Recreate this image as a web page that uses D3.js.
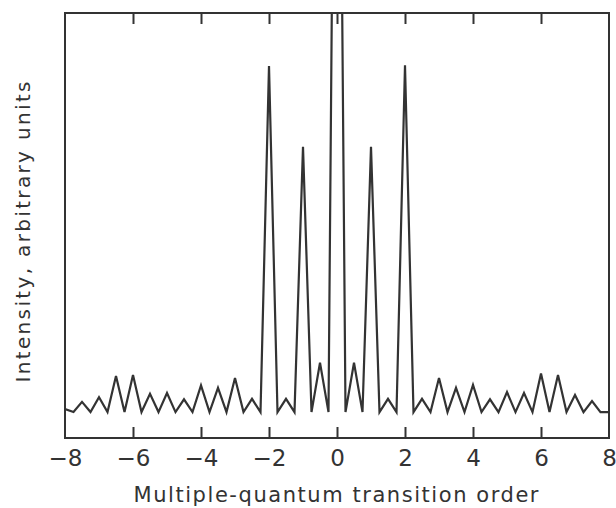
<!DOCTYPE html>
<html>
<head>
<meta charset="utf-8">
<script src="https://cdn.jsdelivr.net/npm/d3@7"></script>
<style>
  html, body { margin: 0; padding: 0; background: #fff; }
  svg { display: block; }
</style>
</head>
<body>
<svg id="chart" width="616" height="508"></svg>
<script>
// Transition order (x) sampled every 0.25
const orders = [
  -8, -7.75, -7.5, -7.25, -7, -6.75, -6.5, -6.25, -6, -5.75, -5.5, -5.25, -5, -4.75, -4.5, -4.25,
  -4, -3.75, -3.5, -3.25, -3, -2.75, -2.5, -2.25, -2, -1.75, -1.5, -1.25, -1, -0.75, -0.5, -0.25,
  0, 0.25, 0.5, 0.75, 1, 1.25, 1.5, 1.75, 2, 2.25, 2.5, 2.75, 3, 3.25, 3.5, 3.75,
  4, 4.25, 4.5, 4.75, 5, 5.25, 5.5, 5.75, 6, 6.25, 6.5, 6.75, 7, 7.25, 7.5, 7.75, 8
];
// Intensity, arbitrary units (central peak is off scale)
const intensity = [
  6.8, 6.1, 8.5, 6.1, 9.6, 6.1, 14.6, 6.1, 14.8, 6.1, 10.4, 6.1, 10.6, 6.1, 9.1, 6.1,
  12.4, 6.1, 11.8, 6.1, 14.1, 6.1, 9.2, 6.1, 87.5, 6.1, 9.2, 6.1, 68.5, 6.1, 17.7, 6.1,
  249, 6.1, 17.7, 6.1, 68.5, 6.1, 9.2, 6.1, 87.7, 6.1, 9.2, 6.1, 14.1, 6.1, 11.8, 6.1,
  12.5, 6.1, 9.1, 6.1, 10.8, 6.1, 10.6, 6.1, 15.2, 6.1, 14.8, 6.1, 10.1, 6.1, 8.7, 6.1, 6.1
];
const xTicks = [-8, -6, -4, -2, 0, 2, 4, 6, 8];
const xInnerTicks = [-6, -4, -2, 0, 2, 4, 6];
const xTitle = "Multiple-quantum transition order";
const yTitle = "Intensity, arbitrary units";

const data = orders.map((o, i) => ({x: o, y: intensity[i]}));

const svg = d3.select("#chart");
const L = 65, R = 609, T = 13, B = 438;
const ink = "#333";

const x = d3.scaleLinear().domain([-8, 8]).range([L, R]);
const y = d3.scaleLinear().domain([0, 100]).range([B, T]);

svg.append("defs").append("clipPath").attr("id", "plotclip")
  .append("rect").attr("x", L).attr("y", T).attr("width", R - L).attr("height", B - T);

// data line
svg.append("path")
  .datum(data)
  .attr("clip-path", "url(#plotclip)")
  .attr("fill", "none")
  .attr("stroke", ink)
  .attr("stroke-width", 2.2)
  .attr("stroke-linejoin", "miter")
  .attr("d", d3.line().x(d => x(d.x)).y(d => y(d.y)));

// inward ticks, bottom and top
const bottomAxis = d3.axisBottom(x).tickValues(xInnerTicks).tickSize(-11).tickFormat("");
const topAxis = d3.axisTop(x).tickValues(xInnerTicks).tickSize(-11).tickFormat("");
const gb = svg.append("g").attr("transform", `translate(0,${B})`).call(bottomAxis);
const gt = svg.append("g").attr("transform", `translate(0,${T})`).call(topAxis);
[gb, gt].forEach(g => {
  g.select(".domain").remove();
  g.selectAll(".tick line").attr("stroke", ink).attr("stroke-width", 2);
});

// tick labels
const labelAxis = d3.axisBottom(x).tickValues(xTicks).tickSize(0).tickPadding(0);
const gl = svg.append("g").attr("transform", `translate(0,${B})`).call(labelAxis);
gl.select(".domain").remove();
gl.selectAll(".tick text")
  .attr("dy", null)
  .attr("y", 28)
  .attr("font-family", "DejaVu Sans, sans-serif")
  .attr("font-size", 23)
  .attr("fill", ink);

// frame
svg.append("rect")
  .attr("x", L).attr("y", T).attr("width", R - L).attr("height", B - T)
  .attr("fill", "none").attr("stroke", ink).attr("stroke-width", 2);

// axis titles
svg.append("text")
  .attr("x", 336).attr("y", 502)
  .attr("text-anchor", "middle")
  .attr("font-family", "DejaVu Sans, sans-serif")
  .attr("font-size", 21)
  .attr("fill", ink)
  .attr("textLength", 405)
  .attr("lengthAdjust", "spacing")
  .text(xTitle);

svg.append("text")
  .attr("transform", "translate(30,232) rotate(-90)")
  .attr("text-anchor", "middle")
  .attr("font-family", "DejaVu Sans, sans-serif")
  .attr("font-size", 20)
  .attr("fill", ink)
  .attr("textLength", 301)
  .attr("lengthAdjust", "spacing")
  .text(yTitle);
</script>
</body>
</html>
